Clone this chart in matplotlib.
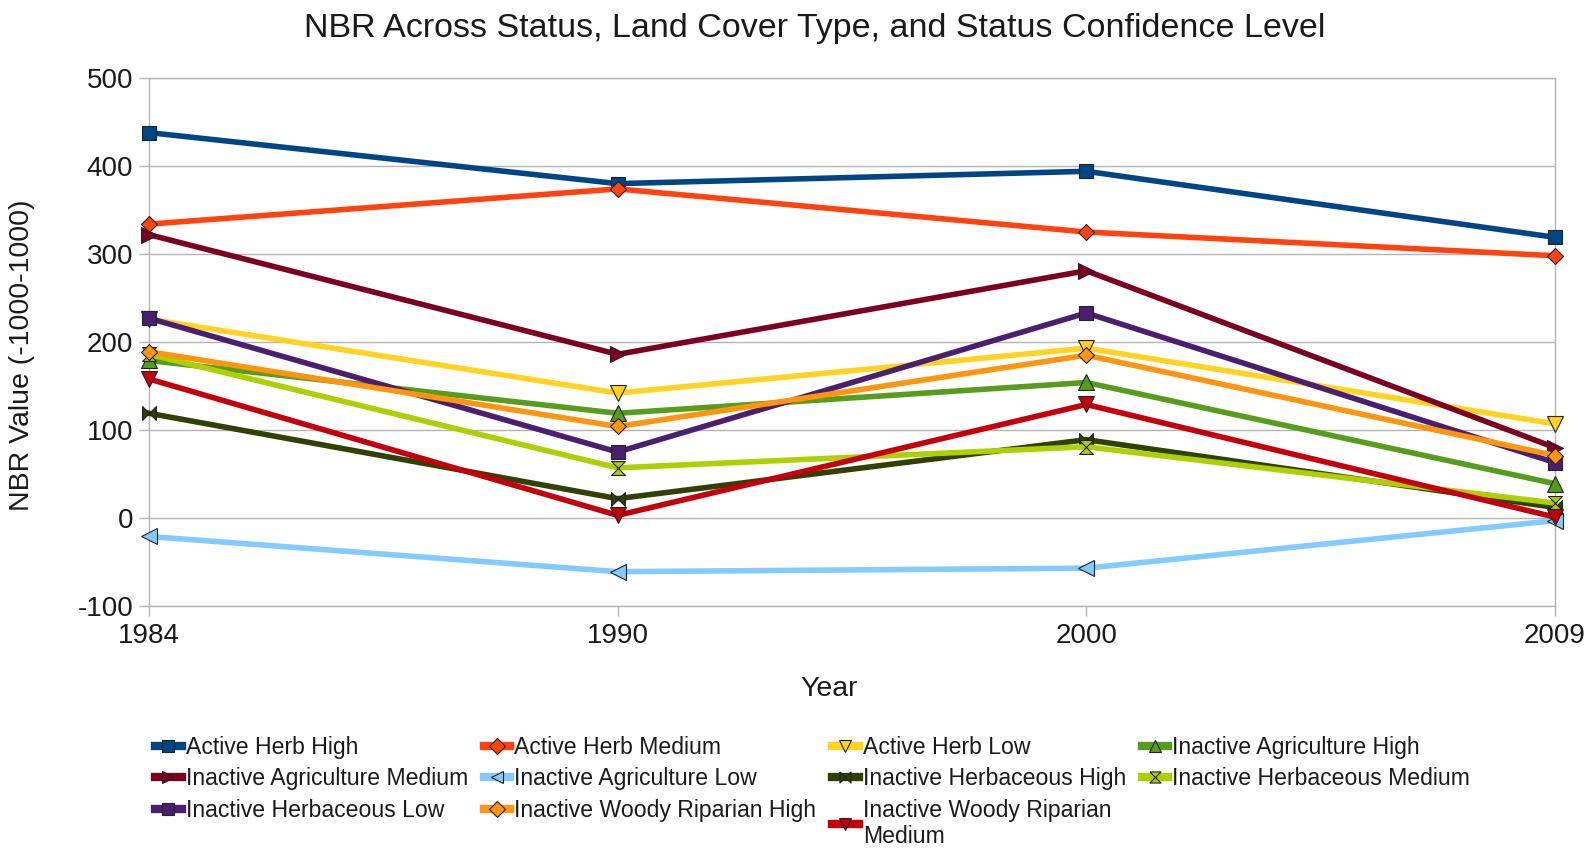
import matplotlib
matplotlib.use("Agg")
import matplotlib.pyplot as plt

plt.rcParams['font.family'] = ['Liberation Sans', 'DejaVu Sans']
plt.rcParams['axes.unicode_minus'] = False

years = ["1984", "1990", "2000", "2009"]

series_names = [
    "Active Herb High", "Active Herb Medium", "Active Herb Low",
    "Inactive Agriculture High", "Inactive Agriculture Medium", "Inactive Agriculture Low",
    "Inactive Herbaceous High", "Inactive Herbaceous Medium", "Inactive Herbaceous Low",
    "Inactive Woody Riparian High", "Inactive Woody Riparian\nMedium",
]

active_herb_high = [438, 380, 394, 319]
active_herb_medium = [334, 374, 325, 298]
active_herb_low = [226, 142, 193, 107]
inactive_agri_high = [179, 119, 154, 39]
inactive_agri_medium = [322, 186, 281, 80]
inactive_agri_low = [-21, -61, -57, -3]
inactive_herb_high = [119, 22, 89, 12]
inactive_herb_medium = [186, 57, 81, 17]
inactive_herb_low = [227, 75, 233, 63]
inactive_woody_high = [189, 104, 185, 71]
inactive_woody_medium = [158, 3, 129, 1]

values = [active_herb_high, active_herb_medium, active_herb_low,
          inactive_agri_high, inactive_agri_medium, inactive_agri_low,
          inactive_herb_high, inactive_herb_medium, inactive_herb_low,
          inactive_woody_high, inactive_woody_medium]

colors = ["#004586", "#ff420e", "#ffd320", "#579d1c", "#7e0021", "#83caff",
          "#314004", "#aecf00", "#4b1f6f", "#ff950e", "#c5000b"]

bowtie = [(-1, 1), (1, -1), (1, 1), (-1, -1), (-1, 1)]
hourglass = [(-1, 1), (1, 1), (-1, -1), (1, -1), (-1, 1)]
markers = ["s", "D", "v", "^", ">", "<", bowtie, hourglass, "s", "D", "v"]
msizes = [10, 8, 11, 11, 11, 11, 10, 10, 10, 8, 11]

fig = plt.figure(figsize=(15.94, 8.51), dpi=100)
ax = fig.add_axes([0.0935, 0.2879, 0.882, 0.6204])

x = list(range(len(years)))
handles = []
for i in range(len(values)):
    h, = ax.plot(x, values[i], color=colors[i], lw=4, marker=markers[i],
                 markersize=msizes[i], markerfacecolor=colors[i],
                 markeredgecolor="#222222", markeredgewidth=0.8,
                 label=series_names[i], zorder=3 + i, clip_on=False)
    handles.append(h)

ax.set_xlim(0, 3)
ax.set_ylim(-100, 500)
ax.set_xticks(x)
ax.set_xticklabels(years)
ax.set_yticks(range(-100, 501, 100))
ax.grid(axis="y", color="#b3b3b3", lw=1)
ax.set_axisbelow(True)
for s in ax.spines.values():
    s.set_color("#b3b3b3")
    s.set_linewidth(1)
ax.tick_params(axis="both", colors="#b3b3b3", labelcolor="#1a1a1a",
               labelsize=20, length=7.5, width=1)
ax.tick_params(axis="y", pad=4)
ax.tick_params(axis="x", pad=5)

fig.text(0.511, 0.966, "NBR Across Status, Land Cover Type, and Status Confidence Level",
         ha="center", va="center", fontsize=24.5, color="#1a1a1a")
fig.text(0.52, 0.19, "Year", ha="center", va="center", fontsize=20.5, color="#1a1a1a")
fig.text(0.014, 0.582, "NBR Value (-1000-1000)", ha="center", va="center",
         rotation=90, fontsize=20.5, color="#1a1a1a")

# legend is column-major in matplotlib, so reorder to read row by row
order = [0, 4, 8, 1, 5, 9, 2, 6, 10, 3, 7]
leg = fig.legend([handles[k] for k in order], [series_names[k] for k in order],
                 loc="upper left", bbox_to_anchor=(0.0915, 0.146), ncol=4,
                 frameon=False, fontsize=16.6,
                 handlelength=1.15, handletextpad=0.18,
                 columnspacing=0.68, labelspacing=0.36, borderaxespad=0)
for lh in leg.get_lines():
    lh.set_markersize(8)
    lh.set_linewidth(6)
for t in leg.get_texts():
    t.set_color("#1a1a1a")

fig.savefig("out.png", dpi=100, facecolor="white")
